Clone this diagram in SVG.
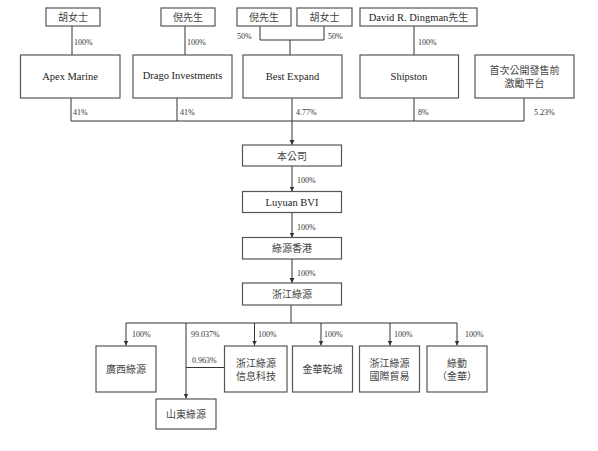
<svg xmlns="http://www.w3.org/2000/svg" width="598" height="451" viewBox="0 0 598 451">
<defs>
<marker id="arr" markerWidth="6" markerHeight="6" refX="5" refY="3" orient="auto" markerUnits="userSpaceOnUse" viewBox="0 0 6 6">
<path d="M0,0.5 L5,3 L0,5.5 Z" fill="#333"/>
</marker>
</defs>
<style>
.box{fill:#fff;stroke:#555;stroke-width:1.2}
.t{font-family:"Liberation Serif","Noto Sans CJK TC",serif;font-size:10.5px;fill:#222;text-anchor:middle}
.c{font-family:"Liberation Serif","Noto Sans CJK TC",serif;font-size:10px;fill:#444;text-anchor:middle}
.p{font-family:"Liberation Serif",serif;font-size:8px;fill:#333}
.ln{fill:none;stroke:#333;stroke-width:1}
.ar{fill:none;stroke:#333;stroke-width:1;marker-end:url(#arr)}
</style>
<rect width="598" height="451" fill="#fff"/>
<g id="connectors">
<path class="ln" d="M72,26 V55"/>
<path class="ln" d="M185,26 V55"/>
<path class="ln" d="M260,26 V40 H324 V26"/>
<path class="ln" d="M290,40 V55"/>
<path class="ln" d="M414,26 V55"/>
<path class="ln" d="M71,98 V121 H524 V98"/>
<path class="ln" d="M177,98 V121"/>
<path class="ln" d="M414,98 V121"/>
<path class="ar" d="M292,98 V145"/>
<path class="ar" d="M292,166 V191.5"/>
<path class="ar" d="M292,212.5 V237.5"/>
<path class="ar" d="M292,259 V283"/>
<path class="ln" d="M291,305 V323"/>
<path class="ln" d="M126,323 H457"/>
<path class="ar" d="M126,323 V345.5"/>
<path class="ar" d="M254.5,323 V345.5"/>
<path class="ar" d="M321,323 V345.5"/>
<path class="ar" d="M390,323 V345.5"/>
<path class="ar" d="M457,323 V345.5"/>
<path class="ar" d="M186,323 V398.5"/>
<path class="ln" d="M224,367.5 H186"/>
<text class="p" x="74" y="45">100%</text>
<text class="p" x="187" y="45">100%</text>
<text class="p" x="237" y="39">50%</text>
<text class="p" x="328" y="39">50%</text>
<text class="p" x="418" y="45">100%</text>
<text class="p" x="73" y="115">41%</text>
<text class="p" x="180" y="115">41%</text>
<text class="p" x="296" y="115">4.77%</text>
<text class="p" x="418" y="115">8%</text>
<text class="p" x="534" y="115">5.23%</text>
<text class="p" x="297" y="183">100%</text>
<text class="p" x="297" y="230">100%</text>
<text class="p" x="297" y="276">100%</text>
<text class="p" x="132" y="337">100%</text>
<text class="p" x="191" y="337">99.037%</text>
<text class="p" x="192" y="363">0.963%</text>
<text class="p" x="258" y="337">100%</text>
<text class="p" x="324" y="337">100%</text>
<text class="p" x="394" y="337">100%</text>
<text class="p" x="465" y="337">100%</text>
</g>
<g id="n_hu1"><rect class="box" x="46" y="8" width="54" height="18"/><text class="c" x="73" y="21">胡女士</text></g>
<g id="n_ni1"><rect class="box" x="161" y="8" width="54" height="18"/><text class="c" x="188" y="21">倪先生</text></g>
<g id="n_ni2"><rect class="box" x="237" y="8" width="54" height="18"/><text class="c" x="264" y="21">倪先生</text></g>
<g id="n_hu2"><rect class="box" x="297" y="8" width="55" height="18"/><text class="c" x="324.5" y="21">胡女士</text></g>
<g id="n_dingman"><rect class="box" x="360" y="8" width="117" height="18"/><text class="t" x="418.5" y="21">David R. Dingman<tspan fill="#444" font-size="10px">先生</tspan></text></g>
<g id="n_apex"><rect class="box" x="20.5" y="55" width="99.5" height="43"/><text class="t" x="70" y="80">Apex Marine</text></g>
<g id="n_drago"><rect class="box" x="133" y="55" width="99" height="43"/><text class="t" x="182.5" y="79">Drago Investments</text></g>
<g id="n_best"><rect class="box" x="243" y="55" width="99" height="43"/><text class="t" x="292.5" y="80">Best Expand</text></g>
<g id="n_shipston"><rect class="box" x="360" y="55" width="98.5" height="43"/><text class="t" x="409" y="80">Shipston</text></g>
<g id="n_platform"><rect class="box" x="475" y="55" width="99" height="43"/><text class="c" x="524.5" y="74">首次公開發售前</text><text class="c" x="524.5" y="87">激勵平台</text></g>
<g id="n_company"><rect class="box" x="242.5" y="145" width="99" height="21"/><text class="c" x="292" y="159.5">本公司</text></g>
<g id="n_bvi"><rect class="box" x="242.5" y="191.5" width="99" height="21"/><text class="t" x="292" y="206">Luyuan BVI</text></g>
<g id="n_hk"><rect class="box" x="242.5" y="237.5" width="99" height="21.5"/><text class="c" x="292" y="252">綠源香港</text></g>
<g id="n_zj"><rect class="box" x="242.5" y="283" width="99" height="22"/><text class="c" x="292" y="298">浙江綠源</text></g>
<g id="n_gx"><rect class="box" x="96" y="346" width="60" height="46"/><text class="c" x="126" y="373">廣西綠源</text></g>
<g id="n_sd"><rect class="box" x="156" y="399" width="60" height="30"/><text class="c" x="186" y="418">山東綠源</text></g>
<g id="n_info"><rect class="box" x="224.5" y="346" width="62.5" height="46"/><text class="c" x="256" y="367">浙江綠源</text><text class="c" x="256" y="380">信息科技</text></g>
<g id="n_qc"><rect class="box" x="292.5" y="346" width="60" height="46"/><text class="c" x="322.5" y="373">金華乾城</text></g>
<g id="n_trade"><rect class="box" x="359.5" y="346" width="60" height="46"/><text class="c" x="389.5" y="367">浙江綠源</text><text class="c" x="389.5" y="380">國際貿易</text></g>
<g id="n_ld"><rect class="box" x="427" y="346" width="60" height="46"/><text class="c" x="457" y="367">綠動</text><text class="c" x="457" y="380">（金華）</text></g>
</svg>
